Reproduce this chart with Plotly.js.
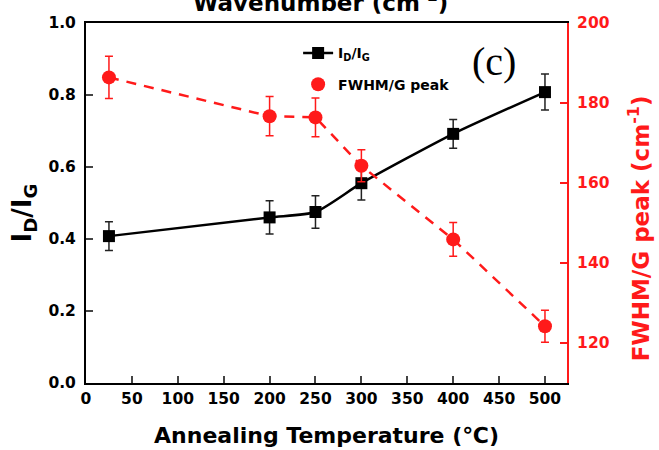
<!DOCTYPE html>
<html><head><meta charset="utf-8">
<script src="https://cdn.plot.ly/plotly-3.0.1.min.js"></script>
<style>html,body{margin:0;padding:0;background:#fff;overflow:hidden}</style>
</head><body><div id="chart" style="width:659px;height:450px"></div>
<script>
const temperatures = [25, 200, 250, 300, 400, 500];
const ratioIDIG = [0.408, 0.46, 0.475, 0.555, 0.692, 0.808];
const ratioErr = [0.04, 0.046, 0.045, 0.047, 0.04, 0.05];
const fwhmG = [186.4, 176.7, 176.4, 164.3, 145.9, 124.2];
const fwhmErr = [5.3, 4.9, 4.85, 4.0, 4.2, 4.0];
const xTickVals = [0, 50, 100, 150, 200, 250, 300, 350, 400, 450, 500];
const leftTickVals = [0.0, 0.2, 0.4, 0.6, 0.8, 1.0];
const leftTickText = ['0.0', '0.2', '0.4', '0.6', '0.8', '1.0'];
const rightTickVals = [120, 140, 160, 180, 200];

const RED = '#ff1a1a';
const FONT = 'DejaVu Sans, Liberation Sans, Arial, sans-serif';

const traces = [
  {
    x: temperatures, y: ratioIDIG, type: 'scatter', mode: 'lines+markers',
    name: 'I<sub>D</sub>/I<sub>G</sub>', legendgroup: 'a',
    line: {color: '#000', width: 2.5, shape: 'spline', smoothing: 0.6},
    marker: {symbol: 'square', size: 12, color: '#000'},
    error_y: {type: 'data', array: ratioErr, visible: true, color: '#222', thickness: 1.5, width: 4}
  },
  {
    x: temperatures, y: fwhmG, type: 'scatter', mode: 'lines', yaxis: 'y2',
    showlegend: false, hoverinfo: 'skip',
    line: {color: RED, width: 2.5, dash: '10px,8px'}
  },
  {
    x: temperatures, y: fwhmG, type: 'scatter', mode: 'markers', yaxis: 'y2',
    name: 'FWHM/G peak', legendgroup: 'b',
    marker: {symbol: 'circle', size: 14, color: RED},
    error_y: {type: 'data', array: fwhmErr, visible: true, color: RED, thickness: 1.5, width: 4}
  }
];

const layout = {
  width: 659, height: 450,
  margin: {l: 86, r: 92, t: 23, b: 67},
  paper_bgcolor: '#fff', plot_bgcolor: '#fff',
  font: {family: FONT, size: 15, color: '#000', weight: 'bold'},
  showlegend: true,
  legend: {x: 0.441, y: 0.96, xanchor: 'left', yanchor: 'top', bgcolor: 'rgba(0,0,0,0)',
           font: {family: FONT, size: 14, weight: 'bold'}, tracegroupgap: 10},
  xaxis: {
    range: [0, 524], tickvals: xTickVals, ticks: 'inside', ticklen: 7, tickwidth: 2,
    showline: true, linewidth: 2, linecolor: '#000', mirror: true, showgrid: false, zeroline: false,
    tickfont: {family: FONT, size: 15.5, weight: 'bold'},
    title: {text: 'Annealing Temperature (℃)', font: {family: FONT, size: 22, weight: 'bold'}, standoff: 21}
  },
  yaxis: {
    range: [0, 1.0], tickvals: leftTickVals, ticktext: leftTickText, ticks: 'inside', ticklen: 7, tickwidth: 2,
    showline: true, linewidth: 2, linecolor: '#000', showgrid: false, zeroline: false,
    ticklabelstandoff: 5,
    tickfont: {family: FONT, size: 15.5, weight: 'bold'}
  },
  yaxis2: {
    overlaying: 'y', side: 'right', range: [110, 200], tickvals: rightTickVals,
    ticks: 'inside', ticklen: 7, tickwidth: 2, tickcolor: RED,
    showline: true, linewidth: 2, linecolor: RED, showgrid: false, zeroline: false,
    ticklabelstandoff: 5,
    tickfont: {family: FONT, size: 15.5, color: RED, weight: 'bold'}
  },
  annotations: [
    {xref: 'paper', yref: 'paper', x: 0.487, y: 1.013, xanchor: 'center', yanchor: 'bottom',
     text: 'Wavenumber (cm<sup>-1</sup>)', showarrow: false,
     font: {family: FONT, size: 23, weight: 'bold', color: '#000'}},
    {xref: 'paper', yref: 'paper', x: 0.848, y: 0.893, xanchor: 'center', yanchor: 'middle',
     text: '(c)', showarrow: false,
     font: {family: 'Liberation Serif, Times New Roman, serif', size: 40, color: '#000', weight: 'normal'}},
    {xref: 'paper', yref: 'paper', x: -0.13, y: 0.472, xanchor: 'center', yanchor: 'middle',
     textangle: -90, text: 'I<sub>D</sub>/I<sub>G</sub>', showarrow: false,
     font: {family: FONT, size: 26, weight: 'bold', color: '#000'}},
    {xref: 'paper', yref: 'paper', x: 1.15, y: 0.43, xanchor: 'center', yanchor: 'middle',
     textangle: -90, text: 'FWHM/G peak (cm<sup>-1</sup>)', showarrow: false,
     font: {family: FONT, size: 23, weight: 'bold', color: RED}}
  ]
};

Plotly.newPlot('chart', traces, layout, {displayModeBar: false, staticPlot: true});
</script></body></html>
